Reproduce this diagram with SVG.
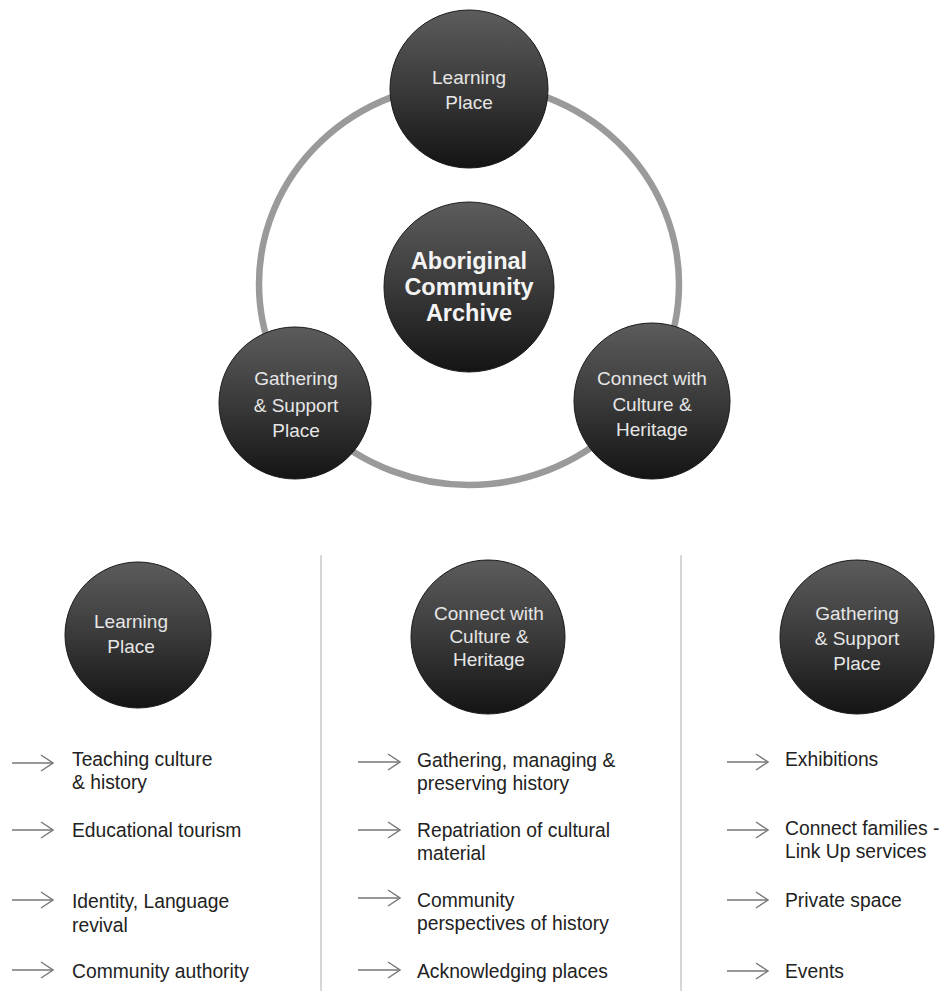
<svg xmlns="http://www.w3.org/2000/svg" width="944" height="991" viewBox="0 0 944 991">
<defs>
<linearGradient id="g" x1="0" y1="0" x2="0" y2="1">
<stop offset="0" stop-color="#5c5c5c"/>
<stop offset="0.5" stop-color="#3a3a3a"/>
<stop offset="1" stop-color="#141414"/>
</linearGradient>
<marker id="ah" viewBox="0 0 14 18" refX="13" refY="9" markerWidth="14" markerHeight="18" markerUnits="userSpaceOnUse" orient="auto">
<path d="M1,1 L13,9 L1,17" fill="none" stroke="#777" stroke-width="1.4"/>
</marker>
</defs>
<style>
.c{fill:url(#g);stroke:#1a1a1a;stroke-width:1}
.t{font-family:"Liberation Sans",Arial,sans-serif;font-size:19px;fill:#e6e6e6;text-anchor:middle}
.b{font-family:"Liberation Sans",Arial,sans-serif;font-size:23.5px;font-weight:bold;fill:#f4f4f4;text-anchor:middle}
.i{font-family:"Liberation Sans",Arial,sans-serif;font-size:19.3px;fill:#222}
.a{stroke:#777;stroke-width:1.6;fill:none}
.d{stroke:#c8c8c8;stroke-width:1.5}
</style>
<rect width="944" height="991" fill="#fff"/>
<g id="connectors">
<ellipse cx="469" cy="284" rx="210" ry="201" fill="none" stroke="#9a9a9a" stroke-width="6.5"/>
<line class="d" x1="321" y1="555" x2="321" y2="991"/>
<line class="d" x1="681" y1="555" x2="681" y2="991"/>
<g class="a">
<line x1="12" y1="763" x2="53" y2="763" marker-end="url(#ah)"/>
<line x1="12" y1="830" x2="53" y2="830" marker-end="url(#ah)"/>
<line x1="12" y1="900" x2="53" y2="900" marker-end="url(#ah)"/>
<line x1="12" y1="970" x2="53" y2="970" marker-end="url(#ah)"/>
<line x1="358" y1="762" x2="400" y2="762" marker-end="url(#ah)"/>
<line x1="358" y1="830" x2="400" y2="830" marker-end="url(#ah)"/>
<line x1="358" y1="898" x2="400" y2="898" marker-end="url(#ah)"/>
<line x1="358" y1="970" x2="400" y2="970" marker-end="url(#ah)"/>
<line x1="727" y1="762" x2="768" y2="762" marker-end="url(#ah)"/>
<line x1="727" y1="830" x2="768" y2="830" marker-end="url(#ah)"/>
<line x1="727" y1="900" x2="768" y2="900" marker-end="url(#ah)"/>
<line x1="727" y1="971" x2="768" y2="971" marker-end="url(#ah)"/>
</g>
</g>
<g id="learning-top">
<circle class="c" cx="469" cy="89" r="79"/>
<text class="t" x="469" y="84">Learning</text>
<text class="t" x="469" y="109">Place</text>
</g>
<g id="archive">
<circle class="c" cx="469" cy="287" r="85"/>
<text class="b" x="469" y="269">Aboriginal</text>
<text class="b" x="469" y="295">Community</text>
<text class="b" x="469" y="321">Archive</text>
</g>
<g id="gathering-top">
<circle class="c" cx="295" cy="403" r="76"/>
<text class="t" x="296" y="385">Gathering</text>
<text class="t" x="296" y="412">&amp; Support</text>
<text class="t" x="296" y="437">Place</text>
</g>
<g id="connect-top">
<circle class="c" cx="652" cy="401" r="78"/>
<text class="t" x="652" y="385">Connect with</text>
<text class="t" x="652" y="411">Culture &amp;</text>
<text class="t" x="652" y="436">Heritage</text>
</g>
<g id="learning-bottom">
<circle class="c" cx="138" cy="635" r="73"/>
<text class="t" x="131" y="628">Learning</text>
<text class="t" x="131" y="653">Place</text>
<text class="i" x="72" y="766">Teaching culture</text>
<text class="i" x="72" y="789">&amp; history</text>
<text class="i" x="72" y="837">Educational tourism</text>
<text class="i" x="72" y="908">Identity, Language</text>
<text class="i" x="72" y="932">revival</text>
<text class="i" x="72" y="978">Community authority</text>
</g>
<g id="connect-bottom">
<circle class="c" cx="488" cy="637" r="77"/>
<text class="t" x="489" y="620">Connect with</text>
<text class="t" x="489" y="643">Culture &amp;</text>
<text class="t" x="489" y="666">Heritage</text>
<text class="i" x="417" y="767">Gathering, managing &amp;</text>
<text class="i" x="417" y="790">preserving history</text>
<text class="i" x="417" y="837">Repatriation of cultural</text>
<text class="i" x="417" y="860">material</text>
<text class="i" x="417" y="907">Community</text>
<text class="i" x="417" y="930">perspectives of history</text>
<text class="i" x="417" y="978">Acknowledging places</text>
</g>
<g id="gathering-bottom">
<circle class="c" cx="857" cy="637" r="77"/>
<text class="t" x="857" y="620">Gathering</text>
<text class="t" x="857" y="645">&amp; Support</text>
<text class="t" x="857" y="670">Place</text>
<text class="i" x="785" y="766">Exhibitions</text>
<text class="i" x="785" y="835">Connect families -</text>
<text class="i" x="785" y="858">Link Up services</text>
<text class="i" x="785" y="907">Private space</text>
<text class="i" x="785" y="978">Events</text>
</g>
</svg>
